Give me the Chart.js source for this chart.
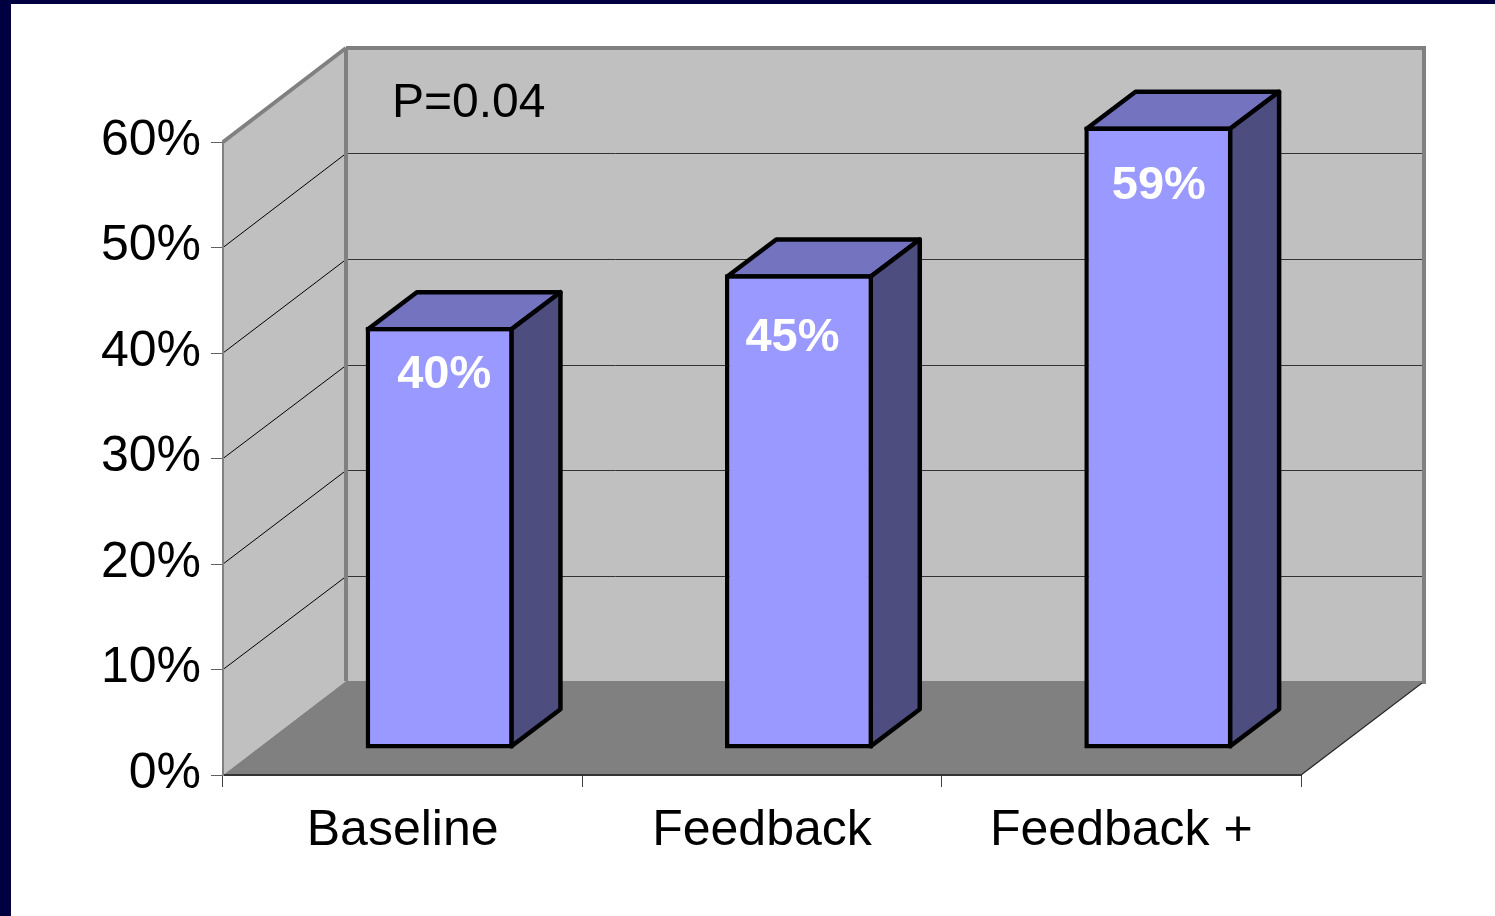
<!DOCTYPE html>
<html lang="en">
<head>
<meta charset="utf-8">
<title>P=0.04</title>
<script src="https://cdn.jsdelivr.net/npm/chart.js@4"></script>
<style>
    html, body { margin: 0; padding: 0; background: #fff; }
    canvas { display: block; }
</style>
</head>
<body>
<canvas id="chart" width="1495" height="916"></canvas>
<script>
const categories = ['Baseline', 'Feedback', 'Feedback +'];
const percentValues = [40, 45, 59];
const yTickLabels = ['0%', '10%', '20%', '30%', '40%', '50%', '60%'];
const annotation = 'P=0.04';

const FONT = '"Liberation Sans", Arial, sans-serif';
const NAVY = '#000040';
const WALL = '#c0c0c0';
const FLOOR = '#808080';

// depth of the box the plot sits in, and where the bars stand inside it
const WALL_DX = 123;
const WALL_DY = 94;
const BAR_SHIFT_X = 37;
const BAR_SHIFT_Y = 26;
const BAR_DX = 49;
const BAR_DY = 37;
const BAR_BORDER = 4.5;

// value labels were placed by hand, offsets from the top centre of each bar
const labelNudgeX = [4.5, -6.5, 0.5];
const labelNudgeY = [48, 64, 59];

function polygon(ctx, points, fill, stroke, lineWidth) {
    ctx.beginPath();
    points.forEach(([x, y], i) => (i ? ctx.lineTo(x, y) : ctx.moveTo(x, y)));
    ctx.closePath();
    if (fill) {
        ctx.fillStyle = fill;
        ctx.fill();
    }
    if (stroke) {
        ctx.strokeStyle = stroke;
        ctx.lineWidth = lineWidth;
        ctx.lineJoin = 'round';
        ctx.stroke();
    }
}

function line(ctx, x1, y1, x2, y2, color, width) {
    ctx.beginPath();
    ctx.moveTo(x1, y1);
    ctx.lineTo(x2, y2);
    ctx.strokeStyle = color;
    ctx.lineWidth = width;
    ctx.lineCap = 'butt';
    ctx.stroke();
}

const box3d = {
    id: 'box3d',
    beforeDraw(chart) {
        const { ctx, chartArea: { left, right, top, bottom }, scales: { y } } = chart;
        ctx.save();

        // slide frame
        ctx.fillStyle = NAVY;
        ctx.fillRect(0, 0, chart.width, 4);
        ctx.fillRect(0, 0, 11, chart.height);

        const backLeft = left + WALL_DX;
        const backRight = right + WALL_DX;
        const backTop = top - WALL_DY;
        const backBottom = bottom - WALL_DY;

        polygon(ctx, [[left, top], [backLeft, backTop], [backLeft, backBottom], [left, bottom]], WALL);
        polygon(ctx, [[backLeft, backTop], [backRight, backTop], [backRight, backBottom], [backLeft, backBottom]], WALL);
        polygon(ctx, [[left, bottom], [backLeft, backBottom], [backRight, backBottom], [right, bottom]], FLOOR);

        // gridlines run along the side wall and across the back
        y.ticks.forEach((tick) => {
            if (tick.value === y.min || tick.value === y.max) return;
            const py = y.getPixelForValue(tick.value);
            const backY = Math.round(py - WALL_DY) + 0.5;
            line(ctx, left, py, backLeft, backY, '#000', 1);
            line(ctx, backLeft, backY, backRight, backY, '#333', 1);
        });

        // wall edges
        line(ctx, backLeft, backTop, backLeft, backBottom, FLOOR, 4);
        line(ctx, backRight, backTop - 2, backRight, backBottom + 3, FLOOR, 4);
        line(ctx, backLeft, backTop, backRight + 2, backTop, FLOOR, 4);
        line(ctx, left, top, backLeft, backTop, FLOOR, 4);
        line(ctx, right, bottom, backRight - 2, backBottom + 2, '#222', 1.2);
        ctx.restore();

        ctx.font = `48px ${FONT}`;
        ctx.fillStyle = '#000';
        ctx.textBaseline = 'middle';
        ctx.textAlign = 'left';
        ctx.fillText(annotation, 392, 104);
    },
    beforeDatasetsDraw(chart) {
        const { ctx } = chart;
        ctx.save();
        ctx.translate(BAR_SHIFT_X, -BAR_SHIFT_Y);
        chart.getDatasetMeta(0).data.forEach((bar) => {
            const inset = BAR_BORDER / 2;
            const x1 = bar.x - bar.width / 2 + inset;
            const x2 = bar.x + bar.width / 2 - inset;
            const yTop = bar.y + inset;
            const yBase = bar.base - inset;
            polygon(ctx, [[x1, yTop], [x1 + BAR_DX, yTop - BAR_DY], [x2 + BAR_DX, yTop - BAR_DY], [x2, yTop]], '#7373bf', '#000', BAR_BORDER);
            polygon(ctx, [[x2, yTop], [x2 + BAR_DX, yTop - BAR_DY], [x2 + BAR_DX, yBase - BAR_DY], [x2, yBase]], '#4d4d80', '#000', BAR_BORDER);
        });
    },
    afterDatasetsDraw(chart) {
        const { ctx } = chart;
        ctx.restore();
        ctx.save();
        ctx.font = `bold 47px ${FONT}`;
        ctx.fillStyle = '#fff';
        ctx.textAlign = 'center';
        ctx.textBaseline = 'middle';
        chart.getDatasetMeta(0).data.forEach((bar, i) => {
            const cx = bar.x + BAR_SHIFT_X + labelNudgeX[i];
            const cy = bar.y - BAR_SHIFT_Y + labelNudgeY[i];
            ctx.fillText(`${percentValues[i]}%`, cx, cy);
        });
        ctx.restore();
    },
};

new Chart(document.getElementById('chart'), {
    type: 'bar',
    data: {
        labels: categories,
        datasets: [{
            data: percentValues,
            backgroundColor: '#9999ff',
            borderColor: '#000',
            borderWidth: BAR_BORDER,
            borderSkipped: false,
            barPercentage: 0.412,
            categoryPercentage: 1,
        }],
    },
    plugins: [box3d],
    options: {
        responsive: false,
        animation: false,
        events: [],
        layout: { padding: { top: 142, right: 194, left: 0, bottom: 0 } },
        plugins: { legend: { display: false }, tooltip: { enabled: false } },
        scales: {
            x: {
                afterFit: (scale) => { scale.height = 141; },
                grid: { drawOnChartArea: false, drawTicks: true, tickLength: 12, color: '#404040', lineWidth: 1, offset: true },
                border: { color: '#333', width: 2 },
                ticks: { color: '#000', font: { family: FONT, size: 50 }, padding: 14, maxRotation: 0 },
            },
            y: {
                min: 0,
                max: 60,
                afterFit: (scale) => { scale.width = 223; },
                grid: { drawOnChartArea: false, drawTicks: true, tickLength: 12, color: '#606060', lineWidth: 1 },
                border: { color: '#808080', width: 2 },
                ticks: {
                    stepSize: 10,
                    color: '#000',
                    font: { family: FONT, size: 50 },
                    padding: 10,
                    labelOffset: -1,
                    callback: (value) => yTickLabels[value / 10],
                },
            },
        },
    },
});
</script>
</body>
</html>
